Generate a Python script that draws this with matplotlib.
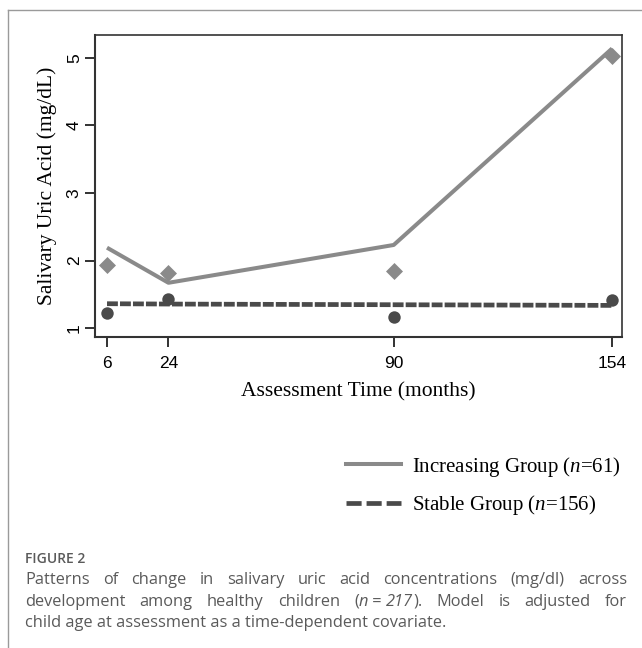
import matplotlib
matplotlib.use("Agg")
import matplotlib.pyplot as plt
from matplotlib.lines import Line2D

# assessment times (months)
months = [6, 24, 90, 154]

# increasing group: fitted line and observed means
inc_fit = [2.19, 1.67, 2.23, 5.14]
inc_obs = [1.93, 1.81, 1.85, 5.03]

# stable group: fitted line and observed means
stab_fit = [1.36, 1.355, 1.345, 1.335]
stab_obs = [1.22, 1.43, 1.17, 1.42]

y_ticks = [1, 2, 3, 4, 5]
legend_labels = ["Increasing Group ($n$=61)", "Stable Group ($n$=156)"]

caption_title = "FIGURE 2"
caption_lines = [
    [("Patterns", "normal"), ("of", "normal"), ("change", "normal"), ("in", "normal"),
     ("salivary", "normal"), ("uric", "normal"), ("acid", "normal"),
     ("concentrations", "normal"), ("(mg/dl)", "normal"), ("across", "normal")],
    [("development", "normal"), ("among", "normal"), ("healthy", "normal"),
     ("children", "normal"), ("(n = 217)", "mixed"), ("Model", "normal"),
     ("is", "normal"), ("adjusted", "normal"), ("for", "normal")],
    [("child age at assessment as a time-dependent covariate.", "normal")],
]

plt.rcParams["mathtext.fontset"] = "custom"
plt.rcParams["mathtext.it"] = "Liberation Serif:italic"
plt.rcParams["mathtext.rm"] = "Liberation Serif"

W, H = 642, 648
fig = plt.figure(figsize=(W / 100, H / 100), dpi=100)

inc_color = "#8a8a8a"
stab_color = "#4a4a4a"

ax = fig.add_axes([95 / W, 1 - 337 / H, (622 - 95) / W, (337 - 35) / H])
ax.plot(months, inc_fit, color=inc_color, lw=2.9, solid_capstyle="butt", zorder=2)
ax.plot(months, stab_fit, color=stab_color, lw=3.4, dashes=(2.3, 0.45), zorder=2)
ax.scatter(months, inc_obs, marker="D", s=75, color=inc_color, zorder=3, linewidths=0)
ax.scatter(months, stab_obs, marker="o", s=80, color=stab_color, zorder=3, linewidths=0)

ax.set_xlim(2.48, 156.9)
ax.set_ylim(0.867, 5.34)
ax.set_xticks(months)
ax.set_xticklabels([str(m) for m in months], fontfamily="Liberation Sans", fontsize=12.5)
ax.set_yticks(y_ticks)
ax.set_yticklabels([str(v) for v in y_ticks], fontfamily="Liberation Sans", fontsize=12.5,
                   rotation=90, va="center")
ax.tick_params(length=7, width=1.3, color="#222222")
ax.tick_params(axis="x", pad=6.5)
ax.tick_params(axis="y", pad=2.5)
for s in ax.spines.values():
    s.set_color("#333333")
    s.set_linewidth(1.2)
ax.spines["left"].set_linewidth(1.5)
ax.spines["bottom"].set_linewidth(1.5)

ax.set_xlabel("Assessment Time (months)", fontfamily="Liberation Serif", fontsize=15.5,
              labelpad=8)
ax.set_ylabel("Salivary Uric Acid (mg/dL)", fontfamily="Liberation Serif", fontsize=15.5,
              labelpad=7)

# legend
handles = [Line2D([], [], color=inc_color, lw=2.9),
           Line2D([], [], color=stab_color, lw=3.4, dashes=(3.2, 1.05))]
fig.legend(handles, legend_labels, loc="upper left", bbox_to_anchor=(331 / W, 1 - 440 / H),
           frameon=False, prop={"family": "Liberation Serif", "size": 15},
           handlelength=2.65, handletextpad=0.53, labelspacing=0.7, borderpad=0.2)

# panel frame (left and top visible)
fig.add_artist(Line2D([8 / W, 8 / W], [0, 1 - 10 / H], transform=fig.transFigure,
                      color="#9a9a9a", lw=1.0))
fig.add_artist(Line2D([8 / W, 1], [1 - 10 / H, 1 - 10 / H], transform=fig.transFigure,
                      color="#9a9a9a", lw=1.0))

# caption
cap_color = "#5a5a5a"
fig.text(25 / W, 1 - 559 / H, caption_title, fontfamily="Open Sans", fontweight="semibold",
         fontsize=10, color=cap_color, va="center")

renderer = fig.canvas.get_renderer()
left_px, right_px = 25, 627
cap_size = 11.8


def draw_token(x, y, word, kind, measure_only=False):
    # returns width in pixels; draws unless measure_only
    parts = [(word, "normal")]
    if kind == "mixed":
        parts = [("(", "normal"), ("n", "italic"), (" = ", "normal"), ("217", "italic"),
                 (").", "normal")]
    cx = x
    for txt, style in parts:
        t = fig.text(cx / W, 1 - y / H, txt, fontfamily="Open Sans", fontstyle=style,
                     fontsize=cap_size, color=cap_color, va="center")
        w = t.get_window_extent(renderer).width
        if measure_only:
            t.remove()
        cx += w
    return cx - x


line_y = [580, 602, 623]
for i, tokens in enumerate(caption_lines):
    y = line_y[i]
    if len(tokens) == 1:
        draw_token(left_px, y, tokens[0][0], tokens[0][1])
        continue
    widths = [draw_token(0, y, w, k, measure_only=True) for w, k in tokens]
    gap = (right_px - left_px - sum(widths)) / (len(tokens) - 1)
    x = left_px
    for (w, k), wd in zip(tokens, widths):
        draw_token(x, y, w, k)
        x += wd + gap

fig.savefig("out.png", dpi=100)
